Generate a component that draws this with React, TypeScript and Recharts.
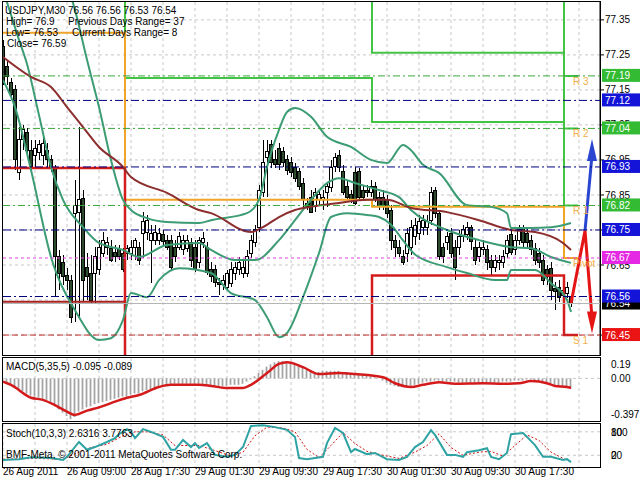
import React from "react";
import { ComposedChart, Bar, Line, XAxis, YAxis, CartesianGrid, ReferenceLine } from "recharts";

const FONT = '"Liberation Sans", Arial, sans-serif';

// USDJPY M30 candles, oldest first
const opens = [
  77.273, 77.216, 77.17, 77.15, 76.913, 77.007, 77.027, 76.978, 76.964, 76.97,
  76.964, 76.978, 76.95, 76.927, 76.673, 76.658, 76.621, 76.607, 76.798, 76.801,
  76.841, 76.644, 76.627, 76.627, 76.636, 76.684, 76.701, 76.698, 76.687, 76.693,
  76.684, 76.684, 76.684, 76.701, 76.701, 76.741, 76.744, 76.721, 76.721, 76.721,
  76.736, 76.721, 76.721, 76.701, 76.701, 76.693, 76.698, 76.713, 76.701, 76.656,
  76.713, 76.701, 76.636, 76.636, 76.601, 76.593, 76.587, 76.598, 76.627, 76.636,
  76.627, 76.627, 76.684, 76.713, 76.758, 76.856, 76.956, 76.993, 76.95, 76.984,
  76.973, 76.95, 76.944, 76.927, 76.916, 76.884, 76.827, 76.844, 76.816, 76.836,
  76.836, 76.856, 76.87, 76.93, 76.964, 76.916, 76.873, 76.85, 76.913, 76.916,
  76.864, 76.864, 76.858, 76.873, 76.844, 76.844, 76.836, 76.807, 76.721, 76.701,
  76.673, 76.684, 76.701, 76.73, 76.741, 76.758, 76.758, 76.778, 76.864, 76.798,
  76.701, 76.713, 76.741, 76.701, 76.701, 76.73, 76.736, 76.756, 76.701, 76.673,
  76.693, 76.693, 76.664, 76.644, 76.656, 76.656, 76.684, 76.736, 76.693, 76.721,
  76.756, 76.741, 76.721, 76.698, 76.684, 76.664, 76.636, 76.641, 76.584, 76.587,
  76.564, 76.57, 76.56,
];
const highs = [
  77.293, 77.236, 77.184, 77.164, 77.044, 77.05, 77.041, 77.007, 77.007, 77.007,
  77.016, 76.998, 76.964, 76.936, 76.693, 76.678, 76.641, 76.621, 76.893, 77.044,
  76.864, 76.684, 76.678, 76.701, 76.721, 76.744, 76.73, 76.721, 76.707, 76.707,
  76.698, 76.707, 76.721, 76.727, 76.716, 76.801, 76.793, 76.764, 76.764, 76.756,
  76.75, 76.736, 76.736, 76.721, 76.744, 76.736, 76.736, 76.727, 76.721, 76.73,
  76.744, 76.716, 76.658, 76.65, 76.613, 76.621, 76.636, 76.658, 76.658, 76.673,
  76.664, 76.693, 76.736, 76.764, 76.878, 77.007, 77.007, 77.007, 76.978, 76.998,
  76.987, 76.964, 76.958, 76.941, 76.927, 76.898, 76.841, 76.864, 76.87, 76.864,
  76.864, 76.884, 76.95, 76.97, 76.978, 76.936, 76.893, 76.864, 76.93, 76.927,
  76.878, 76.878, 76.893, 76.887, 76.858, 76.864, 76.85, 76.821, 76.736, 76.721,
  76.693, 76.756, 76.778, 76.784, 76.793, 76.793, 76.793, 76.873, 76.873, 76.807,
  76.713, 76.744, 76.756, 76.721, 76.75, 76.764, 76.773, 76.764, 76.721, 76.716,
  76.721, 76.707, 76.678, 76.678, 76.678, 76.693, 76.736, 76.75, 76.736, 76.764,
  76.764, 76.756, 76.736, 76.713, 76.698, 76.678, 76.65, 76.658, 76.601, 76.607,
  76.601, 76.601, 76.56,
];
const lows = [
  77.164, 77.164, 77.121, 76.921, 76.893, 76.978, 76.964, 76.916, 76.927, 76.95,
  76.936, 76.927, 76.916, 76.558, 76.578, 76.593, 76.578, 76.484, 76.487, 76.498,
  76.544, 76.55, 76.541, 76.541, 76.621, 76.673, 76.678, 76.658, 76.658, 76.664,
  76.63, 76.664, 76.664, 76.664, 76.65, 76.67, 76.721, 76.598, 76.707, 76.707,
  76.701, 76.693, 76.636, 76.658, 76.693, 76.678, 76.687, 76.644, 76.63, 76.641,
  76.698, 76.621, 76.601, 76.587, 76.564, 76.578, 76.578, 76.587, 76.607, 76.621,
  76.613, 76.616, 76.67, 76.701, 76.744, 76.844, 76.844, 76.927, 76.927, 76.921,
  76.93, 76.907, 76.901, 76.887, 76.864, 76.816, 76.807, 76.798, 76.801, 76.821,
  76.807, 76.816, 76.858, 76.916, 76.916, 76.85, 76.836, 76.827, 76.821, 76.836,
  76.836, 76.844, 76.844, 76.83, 76.807, 76.807, 76.784, 76.693, 76.673, 76.673,
  76.65, 76.658, 76.678, 76.707, 76.721, 76.736, 76.736, 76.764, 76.784, 76.664,
  76.656, 76.693, 76.67, 76.607, 76.678, 76.716, 76.721, 76.693, 76.65, 76.658,
  76.678, 76.636, 76.621, 76.63, 76.636, 76.641, 76.67, 76.678, 76.678, 76.707,
  76.698, 76.698, 76.678, 76.65, 76.641, 76.593, 76.593, 76.55, 76.521, 76.544,
  76.55, 76.556, 76.53,
];
const closes = [
  77.173, 77.187, 77.136, 76.95, 77.007, 77.036, 76.978, 76.93, 76.984, 76.993,
  76.998, 76.95, 76.93, 76.673, 76.627, 76.616, 76.607, 76.501, 76.821, 76.836,
  76.607, 76.616, 76.55, 76.673, 76.701, 76.721, 76.713, 76.664, 76.673, 76.673,
  76.636, 76.698, 76.701, 76.721, 76.664, 76.773, 76.778, 76.741, 76.744, 76.741,
  76.716, 76.701, 76.644, 76.673, 76.73, 76.721, 76.721, 76.664, 76.636, 76.721,
  76.727, 76.63, 76.616, 76.601, 76.593, 76.607, 76.627, 76.636, 76.644, 76.656,
  76.644, 76.673, 76.721, 76.75, 76.864, 76.944, 76.973, 76.944, 76.936, 76.936,
  76.944, 76.921, 76.913, 76.898, 76.873, 76.836, 76.816, 76.801, 76.856, 76.85,
  76.844, 76.873, 76.927, 76.956, 76.927, 76.858, 76.844, 76.836, 76.827, 76.844,
  76.844, 76.856, 76.873, 76.836, 76.816, 76.816, 76.798, 76.721, 76.701, 76.684,
  76.658, 76.741, 76.758, 76.764, 76.773, 76.778, 76.773, 76.856, 76.798, 76.673,
  76.673, 76.73, 76.684, 76.644, 76.73, 76.75, 76.756, 76.716, 76.664, 76.701,
  76.701, 76.658, 76.644, 76.664, 76.664, 76.673, 76.721, 76.687, 76.721, 76.75,
  76.713, 76.713, 76.693, 76.664, 76.656, 76.607, 76.616, 76.578, 76.573, 76.558,
  76.578, 76.587, 76.54,
];

// indicator curves: [bar index, value]
const upperBand = [
  [0, 77.75], [14, 77.521], [18, 77.378], [21, 77.236], [24, 77.101], [27, 76.95], [30, 76.836],
  [32, 76.807], [36, 76.784], [41, 76.773], [49, 76.77], [52, 76.778], [61, 76.798], [64, 76.836],
  [66, 76.93], [69, 77.036], [71, 77.087], [73, 77.098], [77, 77.073], [81, 77.016], [87, 76.987],
  [92, 76.95], [96, 76.941], [100, 76.993], [102, 76.978], [105, 76.936], [109, 76.913],
  [116, 76.821], [122, 76.816], [126, 76.798], [127, 76.756], [132, 76.756], [137, 76.758], [142, 76.77],
];
const middleBand = [
  [0, 77.436], [4, 77.293], [6, 77.224], [9, 77.078], [12, 76.93], [15, 76.836], [20, 76.758],
  [24, 76.713], [30, 76.693], [34, 76.673], [41, 76.707], [49, 76.713], [52, 76.693], [58, 76.664],
  [63, 76.664], [69, 76.721], [73, 76.778], [77, 76.836], [81, 76.884], [84, 76.898], [88, 76.884],
  [94, 76.864], [99, 76.844], [102, 76.807], [111, 76.75], [119, 76.721], [127, 76.701],
  [132, 76.698], [137, 76.673], [142, 76.656],
];
const lowerBand = [
  [0, 77.178], [3, 77.101], [7, 76.921], [12, 76.673], [18, 76.521], [24, 76.436], [27, 76.441],
  [30, 76.493], [32, 76.57], [36, 76.558], [39, 76.607], [44, 76.641], [52, 76.627], [57, 76.57],
  [63, 76.55], [66, 76.501], [69, 76.444], [71, 76.456], [75, 76.558], [79, 76.684], [82, 76.787],
  [86, 76.798], [91, 76.793], [94, 76.787], [97, 76.765], [100, 76.72], [103, 76.68], [111, 76.644],
  [116, 76.627], [123, 76.607], [126, 76.607], [127, 76.636], [133, 76.636], [137, 76.598],
  [141, 76.55], [142, 76.516],
];
const movingAvg = [
  [0, 77.244], [7, 77.187], [12, 77.158], [16, 77.101], [20, 77.044], [24, 76.987], [30, 76.93],
  [32, 76.901], [41, 76.856], [49, 76.807], [52, 76.798], [62, 76.744], [65, 76.758], [69, 76.787],
  [73, 76.807], [77, 76.816], [84, 76.827], [91, 76.836], [96, 76.836], [102, 76.813],
  [111, 76.801], [119, 76.778], [127, 76.75], [133, 76.744], [140, 76.713], [142, 76.693],
];

// daily pivot levels (day A, B, C, D), stepping at the day starts
const dayStarts = [0, 30.5, 92.25, 140.25, 143.75];
const r3 = [78.1, 78.0, 77.496, 77.19];
const r2 = [77.9, 77.7, 77.256, 77.04];
const r1 = [77.695, 77.184, 77.058, 76.82];
const pivot = [77.313, 76.836, 76.816, 76.67];
const s1 = [76.927, 76.2, 76.62, 76.45];
const s2 = [76.545, 75.8, 76.378, 76.3];

// forecast arrows at the right edge
const redArrow = [[142, 76.54], [145.5, 76.748], [147.25, 76.5]];
const blueArrow = [[145.5, 76.748], [147.25, 76.964]];

// horizontal levels with price tags
const levelPrices = [76.54, 77.19, 77.12, 77.04, 76.93, 76.82, 76.75, 76.67, 76.56, 76.45];
const levelKinds = ["bid", "r", "f", "r", "f", "r", "f", "p", "f", "s"];
const levelNames = ["", "R 3", "", "R 2", "", "R 1", "", "Pivot", "", "S 1"];

const gridPrices = [77.35, 77.25, 77.15, 77.05, 76.95, 76.85, 76.75, 76.65, 76.55, 76.45];
const priceTicks = [77.35, 77.25, 77.15, 77.05, 76.95, 76.85, 76.75, 76.65, 76.45];
const Y_DOMAIN: [number, number] = [76.393, 77.401];

// MACD(5,35,5)
const macdHist = [
  -0.03, -0.04, -0.06, -0.08, -0.1, -0.12, -0.14, -0.16, -0.17, -0.18,
  -0.19, -0.2, -0.23, -0.26, -0.29, -0.32, -0.35, -0.38, -0.36, -0.31,
  -0.29, -0.27, -0.26, -0.24, -0.23, -0.22, -0.21, -0.2, -0.19, -0.18,
  -0.17, -0.17, -0.15, -0.14, -0.14, -0.12, -0.11, -0.1, -0.09, -0.08,
  -0.07, -0.06, -0.06, -0.05, -0.05, -0.05, -0.05, -0.05, -0.05, -0.05,
  -0.06, -0.06, -0.07, -0.07, -0.07, -0.07, -0.07, -0.06, -0.06, -0.06,
  -0.05, -0.03, -0.01, 0.02, 0.05, 0.08, 0.11, 0.13, 0.15, 0.16,
  0.16, 0.16, 0.15, 0.14, 0.12, 0.1, 0.08, 0.07, 0.06, 0.06,
  0.07, 0.07, 0.07, 0.07, 0.07, 0.06, 0.06, 0.05, 0.05, 0.04,
  0.04, 0.03, 0.02, 0.01, 0.0, -0.02, -0.04, -0.06, -0.07, -0.08,
  -0.08, -0.08, -0.07, -0.06, -0.05, -0.04, -0.03, -0.03, -0.02, -0.02,
  -0.03, -0.03, -0.03, -0.03, -0.04, -0.04, -0.04, -0.04, -0.04, -0.04,
  -0.04, -0.04, -0.04, -0.04, -0.04, -0.03, -0.03, -0.03, -0.02, -0.02,
  -0.02, -0.01, -0.01, -0.02, -0.03, -0.03, -0.04, -0.05, -0.06, -0.07,
  -0.08, -0.09, -0.095,
];
const macdSignal = [
  [0, -0.03], [2, -0.06], [7, -0.18], [10, -0.2], [13, -0.25], [16, -0.31], [18, -0.34], [21, -0.3],
  [24, -0.27], [27, -0.23], [31, -0.18], [34, -0.155], [39, -0.08], [42, -0.06], [49, -0.06],
  [52, -0.07], [56, -0.09], [60, -0.09], [62, -0.06], [66, 0.05], [69, 0.135], [71, 0.15],
  [75, 0.105], [79, 0.04], [84, 0.05], [88, 0.04], [95, 0.01], [98, -0.045], [102, -0.08],
  [105, -0.06], [109, -0.035], [113, -0.05], [120, -0.045], [125, -0.05], [129, -0.045],
  [132, -0.025], [136, -0.045], [138, -0.07], [141, -0.08], [142, -0.089],
];
const macdTicks = [0.19, 0, -0.397];

// Stoch(10,3,3)
const stochMain = [
  [0, 8], [4, 10], [7, 15], [12, 13], [15, 8], [16, 16], [19, 54], [21, 34], [23, 41], [26, 54],
  [28, 64], [29, 74], [31, 87], [32, 80], [33, 64], [35, 87], [37, 80], [40, 67], [42, 34], [43, 34],
  [45, 59], [47, 41], [48, 51], [49, 39], [51, 51], [53, 21], [56, 16], [58, 21], [60, 41], [62, 95],
  [65, 97], [68, 92], [71, 85], [73, 67], [74, 13], [76, 10], [80, 16], [81, 51], [83, 90], [85, 77],
  [87, 28], [88, 36], [91, 23], [93, 26], [96, 10], [99, 8], [101, 16], [103, 41], [105, 54],
  [107, 84], [108, 72], [111, 21], [113, 21], [115, 16], [116, 28], [119, 33], [121, 38], [122, 16],
  [124, 10], [126, 26], [127, 74], [130, 77], [131, 67], [133, 46], [135, 16], [137, 16], [140, 8],
  [141, 10], [142, 2.6],
];
const stochSignal = [
  [0, 10], [8, 12], [15, 10], [19, 28], [22, 40], [26, 48], [30, 70], [33, 80], [36, 80], [40, 72],
  [43, 45], [46, 45], [49, 45], [53, 32], [57, 18], [60, 28], [63, 70], [66, 92], [70, 90], [73, 80],
  [76, 35], [79, 14], [82, 45], [85, 78], [88, 50], [91, 30], [95, 20], [99, 12], [103, 28],
  [106, 45], [109, 75], [112, 40], [115, 20], [119, 28], [122, 30], [125, 18], [128, 45], [131, 72],
  [134, 58], [137, 28], [140, 12], [142, 3.8],
];
const stochTicks = [80, 20];

const gridIdx = [0, 8, 16, 24, 32, 40, 48, 56, 64, 72, 80, 88, 96, 104, 112, 120, 128, 136, 144];
const timeIdx = [0, 16, 32, 48, 64, 80, 96, 112, 128];
const timeLabels = [
  "26 Aug 2011", "26 Aug 09:00", "28 Aug 17:30", "29 Aug 01:30", "29 Aug 09:30",
  "29 Aug 17:30", "30 Aug 01:30", "30 Aug 09:30", "30 Aug 17:30",
];

const X_DOMAIN: [number, number] = [0, 149.25];

const candles = closes.map((c, i) => ({ i, open: opens[i], high: highs[i], low: lows[i], close: c }));
const rows = (pts: number[][]) => pts.map(([i, v]) => ({ i, v }));
const stepRows = (vals: number[]) =>
  dayStarts.map((i, k) => ({ i, v: vals[Math.min(k, vals.length - 1)] }));
const macdRows = macdHist.map((h, i) => ({ i, h }));

const KIND_STYLE: Record<string, { stroke: string; dash: string; tag: string }> = {
  bid: { stroke: "#b4b4b4", dash: "", tag: "#000000" },
  r: { stroke: "#3aa83a", dash: "7 3 2 3", tag: "#33bb33" },
  f: { stroke: "#000080", dash: "8 3 2 3", tag: "#1414d8" },
  p: { stroke: "#e040e0", dash: "3 3", tag: "#e428e4" },
  s: { stroke: "#c02828", dash: "6 3", tag: "#ea1414" },
};

function Candle(props: any) {
  const { x, y, width, height, payload } = props;
  if (!payload || x == null) return <g />;
  const { open, high, low, close } = payload;
  const top = Math.min(y, y + height);
  const h = Math.abs(height);
  const range = high - low || 1e-9;
  const py = (v: number) => top + ((high - v) / range) * h;
  const cx = Math.round(x + width / 2);
  const yO = py(open);
  const yC = py(close);
  const bull = close >= open;
  return (
    <g shapeRendering="crispEdges">
      <line x1={cx} x2={cx} y1={top} y2={top + h} stroke="#000" strokeWidth={1} />
      <rect
        x={cx - 1.5}
        y={Math.min(yO, yC)}
        width={3}
        height={Math.max(1, Math.abs(yC - yO))}
        fill={bull ? "#ffffff" : "#2c4a2c"}
        stroke="#000"
        strokeWidth={1}
      />
    </g>
  );
}

function Tag(props: any) {
  const { viewBox, bg, text, name } = props;
  if (!viewBox) return null;
  const y = viewBox.y;
  const right = viewBox.x + viewBox.width;
  return (
    <g fontFamily={FONT} fontSize={10}>
      {name ? (
        <text x={right - 27} y={y + 9} fill="#f2b04a">
          {name}
        </text>
      ) : null}
      <rect x={right + 2} y={y - 7} width={38} height={13} fill={bg} />
      <text x={right + 5} y={y + 3.5} fill="#fff">
        {text}
      </text>
    </g>
  );
}

function MacdTick(props: any) {
  const { x, y, payload } = props;
  const v = payload.value;
  const dy = v > 0 ? 10 : v < 0 ? -3 : 4;
  return (
    <text x={x + 3} y={y + dy} fontSize={10} fontFamily={FONT} fill="#000">
      {v === 0 ? "0.00" : String(v)}
    </text>
  );
}

// MT4 prints the 100/80 and 20/0 scale labels on top of each other
function StochTick(props: any) {
  const { x, y, payload } = props;
  const v = payload.value;
  const other = v === 80 ? "100" : "0";
  return (
    <g fontSize={10} fontFamily={FONT} fill="#000">
      <text x={x + 3} y={y + 4}>{other}</text>
      <text x={x + 3} y={y + 4}>{String(v)}</text>
    </g>
  );
}

function TimeTick(props: any) {
  const { x, y, payload } = props;
  const k = timeIdx.indexOf(payload.value);
  return (
    <text x={x} y={y + 8} fontSize={10} fontFamily={FONT} fill="#000" textAnchor="start">
      {timeLabels[k]}
    </text>
  );
}

const arrowDot = (count: number, dir: "up" | "down", color: string) => (p: any) => {
  if (p.index !== count - 1) return <g key={`d${p.index}`} />;
  const { cx, cy } = p;
  const pts =
    dir === "up"
      ? `${cx},${cy - 16} ${cx - 5},${cy + 6} ${cx + 5},${cy + 6}`
      : `${cx},${cy + 16} ${cx - 5},${cy - 6} ${cx + 5},${cy - 6}`;
  return <polygon key={`d${p.index}`} points={pts} fill={color} />;
};

const txt: React.CSSProperties = {
  position: "absolute",
  fontFamily: FONT,
  fontSize: 10,
  lineHeight: "11px",
  color: "#000",
  whiteSpace: "pre",
};
const border = (top: number, height: number): React.CSSProperties => ({
  position: "absolute",
  left: 2,
  top,
  width: 599,
  height,
  border: "1px solid #000",
  boxSizing: "border-box",
  pointerEvents: "none",
});

const noAnim = { isAnimationActive: false, dot: false };

export default function App() {
  return (
    <div style={{ position: "fixed", left: 0, top: 0, width: 640, height: 480, background: "#fff", overflow: "hidden" }}>
      <div style={{ position: "absolute", left: 0, top: 0 }}>
        <ComposedChart width={640} height={355} data={candles} margin={{ top: 2, right: 0, bottom: 0, left: 3 }}>
          <CartesianGrid stroke="#c8c8c8" strokeDasharray="3 3" horizontalValues={gridPrices} verticalValues={gridIdx} />
          <XAxis dataKey="i" type="number" domain={X_DOMAIN} hide allowDataOverflow />
          <YAxis
            orientation="right"
            type="number"
            domain={Y_DOMAIN}
            ticks={priceTicks}
            interval={0}
            allowDataOverflow
            width={40}
            tickSize={4}
            tickMargin={1}
            stroke="#000"
            tick={{ fontSize: 10, fill: "#000", fontFamily: FONT }}
            tickFormatter={(v: number) => v.toFixed(2)}
          />
          <Line data={stepRows(r3)} dataKey="v" type="stepAfter" stroke="#44c444" strokeWidth={2} {...noAnim} />
          <Line data={stepRows(r2)} dataKey="v" type="stepAfter" stroke="#44c444" strokeWidth={2} {...noAnim} />
          <Line data={stepRows(r1)} dataKey="v" type="stepAfter" stroke="#44c444" strokeWidth={2} {...noAnim} />
          <Line data={stepRows(pivot)} dataKey="v" type="stepAfter" stroke="#f0a428" strokeWidth={2} {...noAnim} />
          <Line data={stepRows(s2)} dataKey="v" type="stepAfter" stroke="#a82424" strokeWidth={2} {...noAnim} />
          <Line data={stepRows(s1)} dataKey="v" type="stepAfter" stroke="#d41c1c" strokeWidth={2.5} {...noAnim} />
          <Bar dataKey={(d: any) => [d.low, d.high]} barSize={3} shape={(p: any) => <Candle {...p} />} isAnimationActive={false} />
          <Line data={rows(upperBand)} dataKey="v" type="monotone" stroke="#3c9c74" strokeWidth={2} {...noAnim} />
          <Line data={rows(middleBand)} dataKey="v" type="monotone" stroke="#3c9c74" strokeWidth={2} {...noAnim} />
          <Line data={rows(lowerBand)} dataKey="v" type="monotone" stroke="#3c9c74" strokeWidth={2} {...noAnim} />
          <Line data={rows(movingAvg)} dataKey="v" type="monotone" stroke="#8c2e2e" strokeWidth={2} {...noAnim} />
          <Line
            data={rows(blueArrow)}
            dataKey="v"
            type="linear"
            stroke="#2a46d0"
            strokeWidth={3}
            dot={arrowDot(blueArrow.length, "up", "#2a46d0")}
            isAnimationActive={false}
          />
          <Line
            data={rows(redArrow)}
            dataKey="v"
            type="linear"
            stroke="#e41414"
            strokeWidth={3}
            dot={arrowDot(redArrow.length, "down", "#e41414")}
            isAnimationActive={false}
          />
        </ComposedChart>
      </div>

      {/* level lines and their price tags, laid over the main chart so the tags cover the axis labels */}
      <div style={{ position: "absolute", left: 0, top: 0, pointerEvents: "none" }}>
        <ComposedChart width={640} height={355} data={candles} margin={{ top: 2, right: 40, bottom: 0, left: 3 }}>
          <XAxis dataKey="i" type="number" domain={X_DOMAIN} hide allowDataOverflow />
          <YAxis type="number" domain={Y_DOMAIN} hide allowDataOverflow />
          {levelPrices.map((p, k) => {
            const st = KIND_STYLE[levelKinds[k]];
            return (
              <ReferenceLine
                key={`lv${k}`}
                y={p}
                stroke={st.stroke}
                strokeDasharray={st.dash}
                strokeWidth={1}
                label={<Tag bg={st.tag} text={p.toFixed(2)} name={levelNames[k]} />}
              />
            );
          })}
        </ComposedChart>
      </div>

      <div style={{ position: "absolute", left: 0, top: 356 }}>
        <ComposedChart width={640} height={65} data={macdRows} margin={{ top: 2, right: 0, bottom: 0, left: 3 }}>
          <defs>
            <pattern id="macdHatch" width="2" height="2" patternUnits="userSpaceOnUse">
              <rect width="2" height="2" fill="#dcdcdc" />
              <rect width="1" height="2" fill="#a4a4a4" />
            </pattern>
          </defs>
          <CartesianGrid stroke="#c8c8c8" strokeDasharray="3 3" horizontalValues={[0]} verticalValues={gridIdx} />
          <XAxis dataKey="i" type="number" domain={X_DOMAIN} hide allowDataOverflow />
          <YAxis
            orientation="right"
            type="number"
            domain={[-0.397, 0.19]}
            ticks={macdTicks}
            interval={0}
            allowDataOverflow
            width={40}
            tickLine={false}
            axisLine={false}
            tick={(p: any) => <MacdTick {...p} />}
          />
          <Bar dataKey="h" barSize={3} fill="url(#macdHatch)" isAnimationActive={false} />
          <Line data={rows(macdSignal)} dataKey="v" type="monotone" stroke="#d41a1a" strokeWidth={2.5} {...noAnim} />
        </ComposedChart>
      </div>

      <div style={{ position: "absolute", left: 0, top: 422 }}>
        <ComposedChart width={640} height={58} margin={{ top: 2, right: 0, bottom: 0, left: 3 }}>
          <CartesianGrid stroke="#c8c8c8" strokeDasharray="3 3" horizontalValues={stochTicks} verticalValues={gridIdx} />
          <XAxis
            dataKey="i"
            type="number"
            domain={X_DOMAIN}
            ticks={timeIdx}
            interval={0}
            height={13}
            tickLine={false}
            axisLine={false}
            tickSize={0}
            tickMargin={0}
            allowDataOverflow
            tick={(p: any) => <TimeTick {...p} />}
          />
          <YAxis
            orientation="right"
            type="number"
            domain={[-10, 100]}
            ticks={stochTicks}
            interval={0}
            allowDataOverflow
            width={40}
            tickLine={false}
            axisLine={false}
            tick={(p: any) => <StochTick {...p} />}
          />
          <Line data={rows(stochSignal)} dataKey="v" type="linear" stroke="#d01010" strokeWidth={1} strokeDasharray="2 2" {...noAnim} />
          <Line data={rows(stochMain)} dataKey="v" type="linear" stroke="#2fa3a3" strokeWidth={2} {...noAnim} />
        </ComposedChart>
      </div>

      <div style={border(1, 355)} />
      <div style={border(357, 65)} />
      <div style={border(423, 45)} />

      <div style={{ ...txt, left: 5, top: 5 }}>USDJPY,M30</div>
      <div style={{ ...txt, left: 68, top: 5 }}>76.56 76.56 76.53 76.54</div>
      <div style={{ ...txt, left: 6, top: 16 }}>High= 76.9</div>
      <div style={{ ...txt, left: 68, top: 16 }}>Previous Days Range= 37</div>
      <div style={{ ...txt, left: 6, top: 27 }}>Low= 76.53</div>
      <div style={{ ...txt, left: 72, top: 27 }}>Current Days Range= 8</div>
      <div style={{ ...txt, left: 7, top: 38 }}>Close= 76.59</div>

      <div style={{ ...txt, left: 6, top: 361 }}>MACD(5,35,5) -0.095 -0.089</div>
      <div style={{ ...txt, left: 6, top: 428 }}>Stoch(10,3,3) 2.6316 3.7763</div>
      <div style={{ ...txt, left: 6, top: 449 }}>BMF-Meta, © 2001-2011 MetaQuotes Software Corp.</div>
    </div>
  );
}
